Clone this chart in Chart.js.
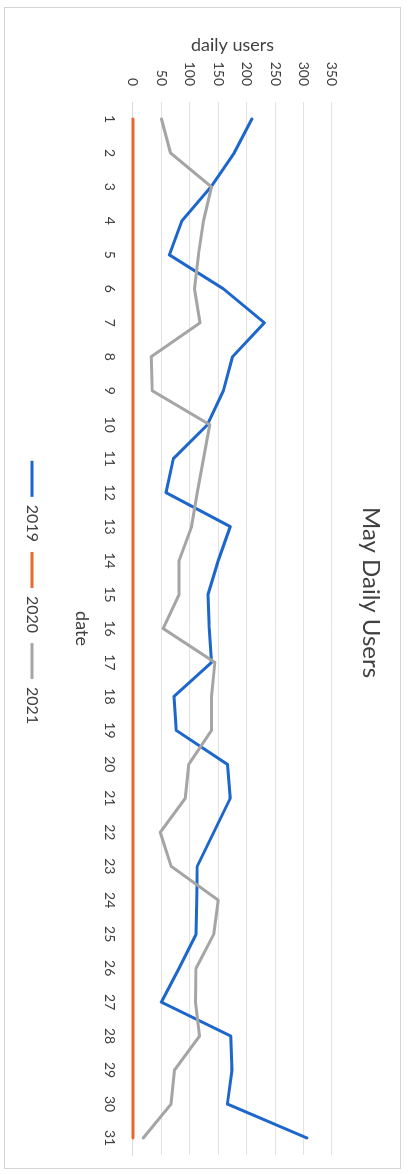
<!DOCTYPE html>
<html>
<head>
<meta charset="utf-8">
<script src="https://cdn.jsdelivr.net/npm/chart.js@4/dist/chart.umd.min.js"></script>
<style>
  html, body { margin: 0; padding: 0; background: #ffffff; overflow: hidden; }
  #wrap {
    position: absolute; left: 0; top: 0;
    width: 1174px; height: 414px;
    transform-origin: 0 0;
    transform: translateX(414px) rotate(90deg);
    background: #ffffff;
  }
  #frame {
    position: absolute; left: 7px; top: 13px; width: 1162px; height: 397px;
    border: 1px solid #d4d4d4; box-sizing: border-box;
  }
  canvas { position: absolute; left: 0; top: 0; }
</style>
</head>
<body>
<script>
// ---- data ----
const dates = ['1','2','3','4','5','6','7','8','9','10','11','12','13','14','15','16',
               '17','18','19','20','21','22','23','24','25','26','27','28','29','30','31'];
const users2019 = [209,178,137,86,64,159,231,175,159,131,71,58,171,150,132,134,
                   138,72,76,166,171,142,113,112,111,81,50,172,174,166,306];
const users2020 = [0,0,0,0,0,0,0,0,0,0,0,0,0,0,0,0,
                   0,0,0,0,0,0,0,0,0,0,0,0,0,0,0];
const users2021 = [50,66,138,124,115,108,118,32,34,135,124,113,103,81,81,53,
                   144,138,138,98,92,48,67,150,142,111,110,117,73,67,18];
const seriesNames = ['2019','2020','2021'];
const yTicks = [0,50,100,150,200,250,300,350];
const chartTitle = 'May Daily Users';
const xTitle = 'date';
const yTitle = 'daily users';
</script>
<div id="wrap">
  <div id="frame"></div>
  <canvas id="c" width="1174" height="414"></canvas>
</div>
<script>
const FONT = 'Lato, "Open Sans", sans-serif';
const TEXT = '#404040';
const colors = ['#1c66cc', '#e8682a', '#a5a5a5'];

new Chart(document.getElementById('c'), {
  type: 'line',
  data: {
    labels: dates,
    datasets: [
      { label: seriesNames[0], data: users2019, order: 2 },
      { label: seriesNames[1], data: users2020, order: 1 },
      { label: seriesNames[2], data: users2021, order: 0 }
    ].map((d, i) => Object.assign(d, {
      borderColor: colors[i],
      backgroundColor: colors[i],
      borderWidth: 3,
      pointRadius: 0,
      pointHoverRadius: 0,
      tension: 0,
      fill: false,
      clip: false,
      borderJoinStyle: 'round',
      borderCapStyle: 'round',
      pointStyle: 'line'
    }))
  },
  options: {
    responsive: false,
    animation: false,
    devicePixelRatio: 1,
    layout: { padding: { left: 30, right: 19, top: 0, bottom: 14 } },
    plugins: {
      tooltip: { enabled: false },
      title: {
        display: true,
        text: chartTitle,
        color: TEXT,
        font: { family: FONT, size: 24, weight: 'normal' },
        padding: { top: 28.6, bottom: 24.6 }
      },
      legend: {
        display: true,
        position: 'bottom',
        labels: {
          color: TEXT,
          font: { family: FONT, size: 16 },
          usePointStyle: true,
          pointStyleWidth: 36,
          padding: 10,
          sort: (a, b) => a.datasetIndex - b.datasetIndex
        }
      }
    },
    scales: {
      x: {
        offset: true,
        grid: { display: false, drawTicks: false },
        border: { display: true, color: '#d9d9d9' },
        ticks: {
          color: TEXT, font: { family: FONT, size: 14 },
          padding: 15, maxRotation: 0, minRotation: 0, autoSkip: false
        },
        title: {
          display: true, text: xTitle, color: TEXT,
          font: { family: FONT, size: 18 },
          padding: { top: 0, bottom: 21.2 }
        },
        afterFit: s => { s.height = 83; }
      },
      y: {
        min: yTicks[0],
        max: yTicks[yTicks.length - 1],
        grid: { color: '#e2e2e2', lineWidth: 1, drawTicks: false },
        border: { display: false },
        ticks: {
          stepSize: yTicks[1] - yTicks[0],
          color: TEXT, font: { family: FONT, size: 14 }, padding: 16
        },
        title: {
          display: true, text: yTitle, color: TEXT,
          font: { family: FONT, size: 18 },
          padding: { top: 4.2, bottom: 0 }
        },
        afterFit: s => { s.width = 72; }
      }
    }
  }
});
</script>
</body>
</html>
